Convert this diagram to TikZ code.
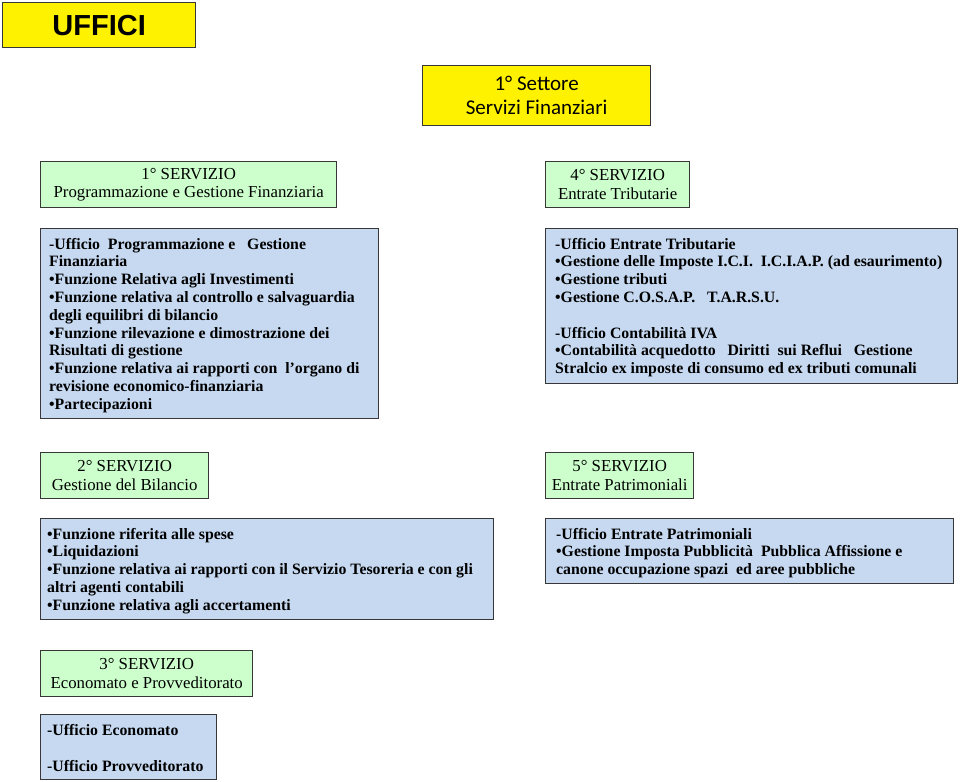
\documentclass[tikz,border=0pt]{standalone}
\usepackage{fontspec}
\setmainfont{Liberation Serif}
\newfontfamily\calfont{Carlito}
\newfontfamily\titlefont{Liberation Sans}
\definecolor{hdrgreen}{RGB}{204,255,204}
\definecolor{bodyblue}{RGB}{198,217,241}
\definecolor{edgegray}{RGB}{55,55,55}
\tikzset{
  boxbase/.style={draw=edgegray, line width=1.3pt, inner sep=0pt, anchor=north west},
  yellowbox/.style={boxbase, fill=yellow},
  hdrbox/.style={boxbase, fill=hdrgreen, align=center, font=\fontsize{16.8}{18.6}\selectfont},
  bodybox/.style={boxbase, fill=bodyblue},
  bodytext/.style={anchor=base west, inner sep=0pt, font=\bfseries\fontsize{15.8}{17.8}\selectfont},
}
\newcommand{\bodylines}[1]{\parbox[t]{470pt}{\raggedright #1}}
\begin{document}
\begin{tikzpicture}[x=1pt,y=-1pt]
\useasboundingbox (0,0) rectangle (960,781);
% titles
\node[yellowbox, minimum width=193pt, minimum height=45pt] (uffici) at (2,2) {\titlefont\bfseries\fontsize{29}{30}\selectfont UFFICI};
\node[yellowbox, minimum width=228pt, minimum height=60pt, align=center, font=\calfont\fontsize{21}{24}\selectfont] (settore) at (422,65) {1° Settore\\Servizi Finanziari};
% service headers
\node[hdrbox, minimum width=296pt, minimum height=46pt] (s1) at (40,161) {1° SERVIZIO\\Programmazione e Gestione Finanziaria};
\node[hdrbox, minimum width=144pt, minimum height=46pt] (s4) at (545,161) {4° SERVIZIO\\Entrate Tributarie};
\node[hdrbox, minimum width=168pt, minimum height=46pt] (s2) at (40,452) {2° SERVIZIO\\Gestione del Bilancio};
\node[hdrbox, minimum width=148pt, minimum height=46pt] (s5) at (545,452) {5° SERVIZIO\\Entrate Patrimoniali};
\node[hdrbox, minimum width=212pt, minimum height=46pt] (s3) at (40,650) {3° SERVIZIO\\Economato e Provveditorato};
% body boxes
\node[bodybox, minimum width=338pt, minimum height=190pt] (b1) at (40,228) {};
\node[bodybox, minimum width=412pt, minimum height=155pt] (b4) at (545,228) {};
\node[bodybox, minimum width=453pt, minimum height=101pt] (b2) at (40,518) {};
\node[bodybox, minimum width=408pt, minimum height=65pt] (b5) at (545,518) {};
\node[bodybox, minimum width=176pt, minimum height=65pt] (b3) at (40,714) {};
% body texts
\node[bodytext] (t1) at ([shift={(9,21)}]b1.north west) {\bodylines{%
-Ufficio\ \ Programmazione e \ \ Gestione\\
Finanziaria\\
•Funzione Relativa agli Investimenti\\
•Funzione relativa al controllo e salvaguardia\\
degli equilibri di bilancio\\
•Funzione rilevazione e dimostrazione dei\\
Risultati di gestione\\
•Funzione relativa ai rapporti con \ l’organo di\\
revisione economico-finanziaria\\
•Partecipazioni}};
\node[bodytext] (t4) at ([shift={(10,21)}]b4.north west) {\bodylines{%
-Ufficio Entrate Tributarie\\
•Gestione delle Imposte I.C.I.\ \ I.C.I.A.P. (ad esaurimento)\\
•Gestione tributi\\
•Gestione C.O.S.A.P.\ \ \ T.A.R.S.U.\\[17.8pt]
-Ufficio Contabilità IVA\\
•Contabilità acquedotto\ \ \ Diritti\ \ sui Reflui\ \ \ Gestione\\
Stralcio ex imposte di consumo ed ex tributi comunali}};
\node[bodytext] (t2) at ([shift={(7,21)}]b2.north west) {\bodylines{%
•Funzione riferita alle spese\\
•Liquidazioni\\
•Funzione relativa ai rapporti con il Servizio Tesoreria e con gli\\
altri agenti contabili\\
•Funzione relativa agli accertamenti}};
\node[bodytext] (t5) at ([shift={(11,21)}]b5.north west) {\bodylines{%
-Ufficio Entrate Patrimoniali\\
•Gestione Imposta Pubblicità\ \ Pubblica Affissione e\\
canone occupazione spazi\ \ ed aree pubbliche}};
\node[bodytext] (t3) at ([shift={(7,21)}]b3.north west) {\bodylines{%
-Ufficio Economato\\[18.2pt]
-Ufficio Provveditorato}};
\end{tikzpicture}
\end{document}
